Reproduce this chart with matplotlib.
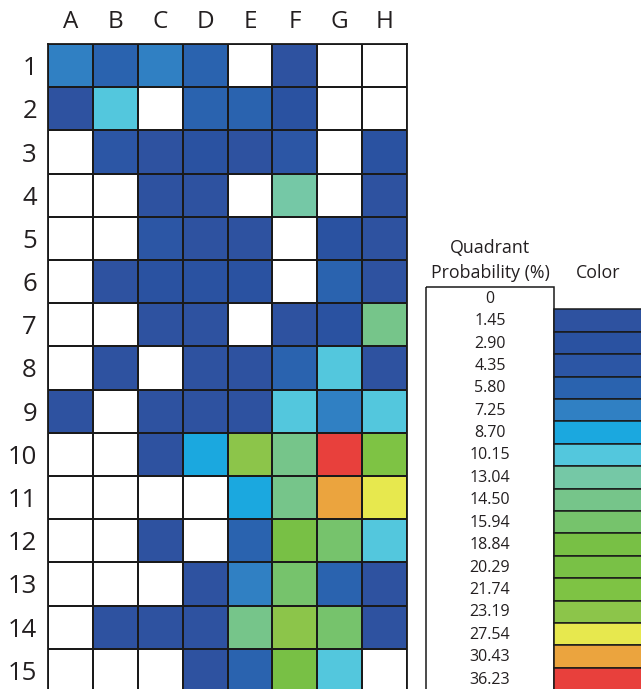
import matplotlib
matplotlib.use('Agg')
import matplotlib.pyplot as plt
from matplotlib.colors import ListedColormap, BoundaryNorm
from matplotlib.patches import Rectangle
import numpy as np

plt.rcParams['font.family'] = ['Open Sans', 'DejaVu Sans']

# Legend levels (quadrant probability, %) and their colours
levels = ['0', '1.45', '2.90', '4.35', '5.80', '7.25', '8.70', '10.15', '13.04',
          '14.50', '15.94', '18.84', '20.29', '21.74', '23.19', '27.54', '30.43', '36.23']
level_colors = ['#FFFFFF', '#2E52A0', '#2A52A1', '#2C56A5', '#2A63AF', '#3080C3',
                '#1BA8DF', '#53C7DD', '#75C8A6', '#76C58A', '#76C36C', '#78C045',
                '#79C146', '#7EC344', '#8CC54A', '#E7E84E', '#EBA43E', '#E8403C']

columns = ['A', 'B', 'C', 'D', 'E', 'F', 'G', 'H']
rows = [str(i) for i in range(1, 16)]

# Cell values as indices into `levels` (row 1 first, columns A..H)
grid = [
    [5, 4, 5, 4, 0, 1, 0, 0],
    [1, 7, 0, 4, 4, 2, 0, 0],
    [0, 3, 1, 2, 1, 3, 0, 2],
    [0, 0, 1, 1, 0, 8, 0, 1],
    [0, 0, 3, 1, 1, 0, 2, 1],
    [0, 1, 2, 2, 2, 0, 4, 1],
    [0, 0, 1, 1, 0, 1, 2, 9],
    [0, 1, 0, 1, 1, 4, 7, 1],
    [1, 0, 1, 1, 1, 7, 5, 7],
    [0, 0, 1, 6, 14, 9, 17, 13],
    [0, 0, 0, 0, 6, 9, 16, 15],
    [0, 0, 1, 0, 4, 11, 10, 7],
    [0, 0, 0, 1, 5, 10, 4, 1],
    [0, 1, 1, 1, 9, 14, 10, 1],
    [0, 0, 0, 1, 4, 11, 7, 0],
]

W, H = 641, 689
ink = '#231F20'
fig = plt.figure(figsize=(W / 100, H / 100), dpi=100)
fig.patch.set_facecolor('white')

cmap = ListedColormap(level_colors)
norm = BoundaryNorm(np.arange(len(levels) + 1) - 0.5, cmap.N)

# --- main grid ---
gx0, gy0, cw, rh = 48, 44, 359 / 8, 43.2
ax = fig.add_axes([gx0 / W, 1 - (gy0 + rh * 15) / H, cw * 8 / W, rh * 15 / H])
data = np.array(grid)
ax.pcolormesh(np.arange(9), np.arange(16), data, cmap=cmap, norm=norm,
              edgecolors='#1A1A1A', linewidth=1.1)
ax.set_xlim(0, 8)
ax.set_ylim(15, 0)
ax.set_xticks(np.arange(8) + 0.5)
ax.set_xticklabels(columns, fontsize=17.5, color=ink)
ax.set_yticks(np.arange(15) + 0.5)
ax.set_yticklabels(rows, fontsize=18.5, color=ink)
ax.xaxis.tick_top()
ax.tick_params(length=0)
ax.tick_params(axis='x', pad=7)
ax.tick_params(axis='y', pad=8)
for s in ax.spines.values():
    s.set_color('#1A1A1A')
    s.set_linewidth(1.3)

# --- legend table (pixel coordinates) ---
lg = fig.add_axes([0, 0, 1, 1])
lg.set_xlim(0, W)
lg.set_ylim(H, 0)
lg.axis('off')
lx0, lx1, sx1, ly0, lrh = 426, 554, 700, 287, 22.4
n = len(levels)
lg.text((lx0 + lx1) / 2, 248, 'Quadrant', ha='center', va='center', fontsize=12.8, color=ink)
lg.text((lx0 + lx1) / 2, 273, 'Probability (%)', ha='center', va='center', fontsize=12.8, color=ink)
lg.text(598, 273, 'Color', ha='center', va='center', fontsize=12.8, color=ink)
lg.add_patch(Rectangle((lx0, ly0), lx1 - lx0, lrh * n, facecolor='none',
                       edgecolor='#1A1A1A', linewidth=1.1))
for i, (lab, col) in enumerate(zip(levels, level_colors)):
    y = ly0 + i * lrh
    lg.text((lx0 + lx1) / 2, y + lrh / 2 + 0.5, lab, ha='center', va='center',
            fontsize=11.5, color=ink)
    if i > 0:
        lg.add_patch(Rectangle((lx1, y), sx1 - lx1, lrh, facecolor=col,
                               edgecolor='#1A1A1A', linewidth=1.1))

fig.savefig('out.png', dpi=100, facecolor='white')
